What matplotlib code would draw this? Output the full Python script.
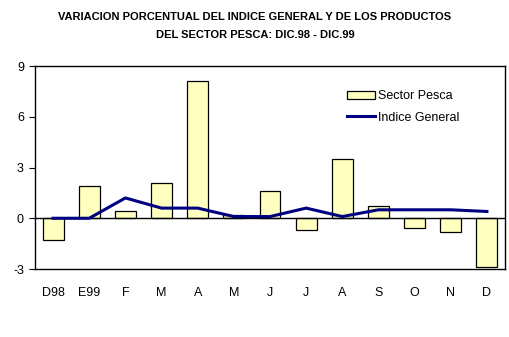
import matplotlib
matplotlib.use("Agg")
import matplotlib.pyplot as plt
import numpy as np

months = ["D98", "E99", "F", "M", "A", "M", "J", "J", "A", "S", "O", "N", "D"]
sector_pesca = [-1.3, 1.9, 0.4, 2.1, 8.1, 0.2, 1.6, -0.7, 3.5, 0.7, -0.6, -0.8, -2.9]
indice_general = [0.0, 0.0, 1.2, 0.6, 0.6, 0.1, 0.1, 0.6, 0.1, 0.5, 0.5, 0.5, 0.4]
yticks = [-3, 0, 3, 6, 9]

plt.rcParams["font.family"] = ["Liberation Sans", "DejaVu Sans"]

fig = plt.figure(figsize=(5.10, 3.37), dpi=100)
W, H = 510, 337
ax = fig.add_axes([35 / W, 1 - 269 / H, (505 - 35) / W, (269 - 66) / H])

x = np.arange(len(months))
bars = ax.bar(x, sector_pesca, width=0.58, color="#FFFFC0", edgecolor="black",
              linewidth=0.9, label="Sector Pesca", zorder=2)
ax.axhline(0, color="black", linewidth=1.0, zorder=3)
line, = ax.plot(x, indice_general, color="#000080", linewidth=2.2,
                label="Indice General", zorder=4)

ax.set_xlim(-0.5, len(months) - 0.5)
ax.set_ylim(-3, 9)
ax.set_yticks(yticks)
ax.set_yticklabels([str(v) for v in yticks], fontsize=9)
ax.set_xticks(x)
ax.set_xticklabels(months, fontsize=9)
ax.tick_params(axis="x", length=0, pad=13)
ax.tick_params(axis="y", length=4, direction="out", pad=4)
for s in ax.spines.values():
    s.set_linewidth(1.0)

ax.legend(handles=[bars, line], loc="upper left", bbox_to_anchor=(0.64, 0.935),
          frameon=False, fontsize=9, handlelength=2.2, handletextpad=0.3,
          labelspacing=0.75)

fig.text(0.5, 1 - 17 / H, "VARIACION PORCENTUAL DEL INDICE GENERAL Y DE LOS PRODUCTOS",
         ha="center", va="center", fontsize=8.0, fontweight="bold")
fig.text(0.5, 1 - 35 / H, "DEL SECTOR PESCA: DIC.98 - DIC.99",
         ha="center", va="center", fontsize=8.0, fontweight="bold")

fig.savefig("out.png", dpi=100, facecolor="white")
